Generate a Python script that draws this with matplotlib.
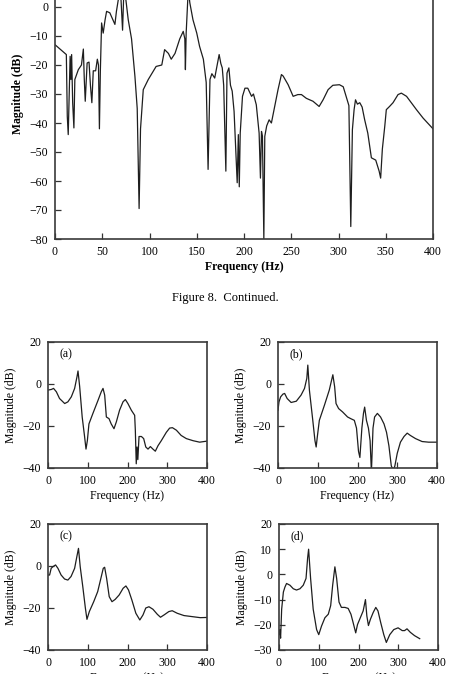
import matplotlib
matplotlib.use("Agg")
import matplotlib.pyplot as plt

plt.rcParams["font.family"] = ["Liberation Serif", "DejaVu Serif"]
plt.rcParams["font.size"] = 8.5

# top panel (continued from previous page)
top_freq = [0, 10.5, 12, 13, 14, 15, 16, 16.8, 17.6, 18.7, 20, 21, 24.7, 28, 30, 31, 32,
            34, 36, 37.5, 39, 40.5, 43, 44.8, 46, 47, 48, 49.3, 51, 53, 54.6, 58, 63.4,
            65, 67, 69, 71.5, 73, 75, 77.5, 81, 84.6, 87, 89, 90.5, 93.4, 98.7, 107, 113,
            116, 120, 123, 127, 132, 135.7, 137.4, 138, 138.8, 141, 142.7, 146, 150, 153,
            157, 160, 162, 164, 166, 169, 171.6, 173.7, 175.5, 177, 178.5, 180.8, 182, 184,
            185.7, 187.5, 189.5, 192.8, 194, 195, 196, 198.4, 201, 204, 208, 210, 213, 216,
            217.4, 218.5, 219.5, 221, 222, 224, 226.6, 229, 232.6, 236, 239.6, 241.4, 246.7,
            252, 257, 260.8, 266, 273, 279.5, 283.7, 289, 294, 301, 305, 308, 311, 313,
            314.7, 316.5, 318, 320, 322.5, 325, 327.7, 331, 334.8, 339.4, 343, 344.6, 346.4,
            349, 350.6, 354, 357.7, 363, 366.5, 372, 377, 382.5, 389.5, 400]
top_mag = [-13, -16, -16.4, -37.7, -44, -30, -17, -25, -16.4, -33, -41.7, -25, -21.6, -20,
           -14.5, -25, -32.5, -19.3, -19, -27, -33, -22, -22, -18, -20, -42, -22, -5.5, -9,
           -4.4, -1.5, -2, -6, -1.5, 2.5, 8, -8, 7, 2.5, -4.4, -11, -24, -35, -69.5, -42,
           -28.5, -25, -20.5, -20, -14.7, -16, -18, -16, -11, -8.4, -11, -21.6, -9, 6, 1.4,
           -4.4, -9, -13.6, -18, -26, -56, -25, -23, -24.5, -20, -16.4, -19.5, -21, -27,
           -56.6, -22.8, -21, -27, -29, -36, -60.6, -44, -62, -43.5, -30.8, -28, -28, -30.8,
           -30, -33.7, -43.5, -59, -42.9, -44.5, -80, -44.6, -41, -38.9, -40, -34, -28.5,
           -23.3, -23.8, -26.8, -30.8, -30.2, -30.2, -31.5, -32.5, -34.3, -32, -28.5, -27,
           -26.8, -27.5, -30.8, -34, -75.7, -42.3, -35.4, -32, -33.5, -33, -34.5, -38.9,
           -43.5, -52, -52.8, -56.6, -59, -49, -41, -35.4, -34.3, -33, -30.2, -29.7, -30.8,
           -33, -35.4, -38.3, -42]

# (a)
a_freq = [0, 8.4, 14, 21, 29, 42, 50, 58.7, 67, 73, 75.5, 79.7, 86, 92, 95.6, 99, 103, 113,
          126, 134, 138.4, 142.6, 146.8, 153.5, 159, 166, 172, 180, 188.7, 194.6, 201,
          209.7, 218, 219.7, 222, 224, 226, 229, 235, 240.7, 246, 251.6, 257.5, 264, 270,
          276.7, 285, 297.7, 306, 313, 323, 335, 348, 365, 381.5, 400]
a_mag = [-2.9, -2.6, -2.1, -3.7, -6.9, -9.3, -8.5, -6.1, -2.1, 3.5, 6.2, -1.3, -15.7, -25,
         -31, -27, -19, -14, -7.7, -3.7, -2.1, -5.3, -15.7, -16.5, -19, -21.3, -18, -12.5,
         -8.5, -7.4, -9.3, -12.5, -14.9, -22, -38, -30, -36, -25, -25, -26, -30, -31, -29.8,
         -31, -32, -29.4, -27, -23, -21, -20.8, -22, -24.5, -26, -27, -27.7, -27.2]

# (b)
b_freq = [0, 2.5, 6.7, 12.5, 16.7, 23, 33, 46, 58, 66.7, 72.5, 75, 79, 87.5, 93, 96, 99,
          104, 117, 129, 138, 142.5, 146, 152.5, 162.5, 175, 183, 192, 197.5, 202.5, 206,
          211, 215, 218, 222.5, 227.5, 231.7, 235, 239, 243, 250, 258, 266.7, 273, 279,
          285, 290, 294, 300, 308, 317, 325, 333, 346, 362.5, 379, 400]
b_mag = [-12.5, -8.5, -6.1, -4.8, -4.5, -6.9, -8.8, -8.2, -5.3, -2.1, 2.7, 9, -2.9, -17.3,
         -27, -30, -25, -17.3, -10, -2.9, 4.4, -1.3, -9.3, -11.7, -13.3, -15.7, -16.5,
         -17.3, -21, -32, -35, -21, -14, -11, -17.3, -21, -27, -42, -21, -15.7, -14, -15.7,
         -19, -23, -29.4, -39, -41, -39, -33, -27.7, -25, -23.4, -24.5, -26, -27.4, -27.7,
         -27.7]

# (c)
c_freq = [0, 4, 8, 12.5, 19, 25, 33, 41.7, 50, 58, 67, 72.5, 76.7, 81, 87.5, 94, 98, 104,
          115, 125, 133, 139, 142.5, 147.5, 154, 161, 169, 179, 189, 196, 202.5, 211, 221,
          231, 239, 246, 254, 264, 275, 283, 292, 304, 312.5, 325, 342, 362.5, 383, 400]
c_mag = [-4.3, -4.3, -1.1, -0.3, 0.5, -1.1, -4.3, -6.2, -6.7, -5, -1.1, 4.4, 8.4, -0.3,
         -9.8, -20, -25.4, -21.7, -17, -12.2, -5.9, -1.1, -0.6, -5.9, -14.6, -17, -15.9,
         -13.8, -10.6, -9.5, -11.4, -16.2, -22.5, -25.7, -23.3, -20, -19.4, -20.6, -23,
         -24.4, -23.3, -21.7, -21.3, -22.5, -23.6, -24.1, -24.6, -24.5]

# (d)
d_freq = [0, 2, 4, 6.7, 11, 15, 19, 27.6, 36, 44, 52.7, 61, 68, 72, 74.5, 76, 79.5, 86,
          94.6, 100, 107, 115.5, 124, 130, 135, 140.6, 145, 151, 157, 166, 174, 181, 186.6,
          193, 197.5, 203, 211.7, 217.5, 221, 225, 230, 237, 243.5, 249, 256, 263.6, 270,
          278.7, 288.7, 299.6, 310, 316, 322, 330.5, 341, 354]
d_mag = [-23.9, -21.9, -25.3, -13.8, -7, -5, -3.6, -4.3, -5.7, -6.2, -5.7, -4.3, -1.6, 6.5,
         10, 6.5, -1.6, -13.8, -21.9, -23.9, -20.5, -17.2, -15.8, -12.4, -4.3, 3, -1.6, -11,
         -13.1, -13.1, -13.5, -15.8, -19.2, -23.2, -19.9, -17.8, -14.5, -10, -16.5, -20.3,
         -17.8, -15.1, -13.1, -14.5, -19.2, -23.9, -27, -23.9, -21.9, -21.2, -22.3, -22.3,
         -21.6, -23, -24.3, -25.5]

LINE = dict(color="#1e1e1e", linewidth=0.9)


def style_axis(ax, xlim, ylim, xticks, yticks):
    ax.set_xlim(*xlim)
    ax.set_ylim(*ylim)
    ax.set_xticks(xticks)
    ax.set_yticks(yticks)
    ax.tick_params(direction="in", length=4, width=0.9, color="#333333", labelsize=8.5)
    ax.tick_params(axis="x", pad=5)
    ax.tick_params(axis="y", pad=5)
    for spine in ax.spines.values():
        spine.set_color("#3a3a3a")
        spine.set_linewidth(1.2)


fig = plt.figure(figsize=(4.5, 6.74), dpi=100)

top_ax = fig.add_axes([55 / 450, 1 - 239 / 674, 378 / 450, 290 / 674])
top_ax.plot(top_freq, top_mag, **LINE)
style_axis(top_ax, (0, 400), (-80, 20), range(0, 401, 50), range(-80, 1, 10))
top_ax.set_xlabel("Frequency (Hz)", fontweight="bold", labelpad=2)
top_ax.set_ylabel("Magnitude (dB)", fontweight="bold", labelpad=4)

fig.text(0.5, 1 - 298 / 674, "Figure 8.  Continued.", ha="center", va="center",
         fontsize=9)

panels = [
    ("(a)", a_freq, a_mag, [48, 342], (-40, 20), [-40, -20, 0, 20]),
    ("(b)", b_freq, b_mag, [278, 342], (-40, 20), [-40, -20, 0, 20]),
    ("(c)", c_freq, c_mag, [48, 524], (-40, 20), [-40, -20, 0, 20]),
    ("(d)", d_freq, d_mag, [279, 524], (-30, 20), range(-30, 21, 10)),
]
for label, freq, mag, (px, py), ylim, yticks in panels:
    ax = fig.add_axes([px / 450, 1 - (py + 126) / 674, 159 / 450, 126 / 674])
    ax.plot(freq, mag, **LINE)
    style_axis(ax, (0, 400), ylim, [0, 100, 200, 300, 400], yticks)
    ax.text(0.07, 0.88, label, transform=ax.transAxes, fontsize=8.5)
    ax.set_xlabel("Frequency (Hz)", labelpad=2)
    ax.set_ylabel("Magnitude (dB)", labelpad=4)

fig.savefig("out.png", dpi=100)
